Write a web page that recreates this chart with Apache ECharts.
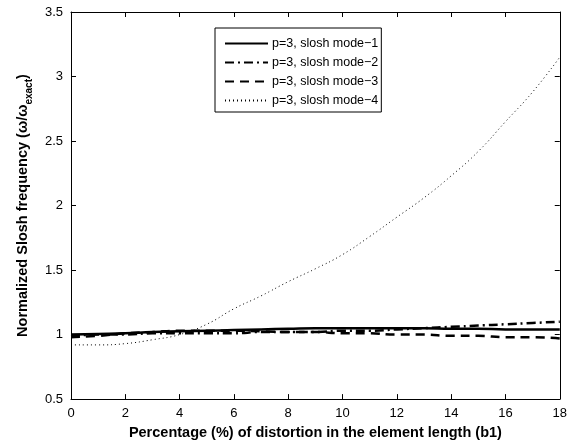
<!DOCTYPE html>
<html><head><meta charset="utf-8">
<script src="https://cdn.jsdelivr.net/npm/echarts@6/dist/echarts.min.js"></script>
<style>html,body{margin:0;padding:0;background:#fff}#c{width:570px;height:445px}</style>
</head><body><div id="c"></div>
<script>
var xVals = [0,1,2,3,4,5,6,7,8,9,10,11,12,13,14,15,16,17,18];
var mode1 = [1.00,1.005,1.01,1.02,1.025,1.03,1.035,1.04,1.045,1.05,1.05,1.05,1.05,1.05,1.045,1.045,1.04,1.04,1.04];
var mode2 = [0.99,1.00,1.00,1.01,1.01,1.01,1.01,1.02,1.02,1.02,1.03,1.03,1.04,1.05,1.06,1.07,1.08,1.09,1.10];
var mode3 = [0.98,0.99,1.01,1.02,1.03,1.03,1.03,1.025,1.02,1.02,1.01,1.01,1.00,1.00,0.99,0.99,0.98,0.98,0.97];
var mode4 = [0.92,0.92,0.93,0.96,1.00,1.08,1.20,1.30,1.41,1.51,1.62,1.76,1.91,2.06,2.23,2.42,2.65,2.88,3.15];
var seriesNames = ['p=3, slosh mode\u22121','p=3, slosh mode\u22122','p=3, slosh mode\u22123','p=3, slosh mode\u22124'];
var xTicks = [0,2,4,6,8,10,12,14,16,18];
var yTicks = [0.5,1,1.5,2,2.5,3,3.5];

function pairs(arr){ return xVals.map(function(x,i){ return [x, arr[i]]; }); }
var FONT = 'Liberation Sans, Arial, sans-serif';
var chart = echarts.init(document.getElementById('c'), null, {renderer:'canvas'});
var axisCommon = {
  axisLine:{show:true, onZero:false, lineStyle:{color:'#000', width:1}},
  axisTick:{show:true, inside:true, length:5, lineStyle:{color:'#000'}},
  splitLine:{show:false}
};
var styles = [
  {type:'solid', width:2.5},
  {type:[9,4,2,4], width:2.5},
  {type:[9,6], width:2.5},
  {type:[1,3], width:1}
];
var dataSets = [mode1, mode2, mode3, mode4];
var series = dataSets.map(function(d,i){
  return {
    name: seriesNames[i], type:'line', data: pairs(d), smooth:true, showSymbol:false, symbol:'none',
    lineStyle:{color:'#000', width:styles[i].width, type:styles[i].type},
    itemStyle:{color:'#000'}
  };
});
chart.setOption({
  animation:false,
  backgroundColor:'#fff',
  grid:{left:71, right:8, top:12, bottom:44, containLabel:false},
  legend:{
    left:215, top:28, orient:'vertical', itemWidth:43, itemHeight:10, itemGap:6,
    padding:[9,3,5,9],
    borderColor:'#000', borderWidth:1, backgroundColor:'#fff',
    itemStyle:{opacity:0},
    textStyle:{fontFamily:FONT, fontSize:12.5, color:'#000', padding:[0,0,0,-1]},
    data: seriesNames
  },
  xAxis:[
    Object.assign({type:'value', min:0, max:18, interval:2, position:'bottom',
      name:'Percentage (%) of distortion in the element length (b1)', nameLocation:'middle', nameGap:23,
      nameTextStyle:{fontFamily:FONT, fontWeight:'bold', fontSize:14.5, color:'#000'},
      axisLabel:{fontFamily:FONT, fontSize:13, color:'#000', margin:8}}, axisCommon),
    Object.assign({type:'value', min:0, max:18, interval:2, position:'top', axisLabel:{show:false}}, axisCommon)
  ],
  yAxis:[
    Object.assign({type:'value', min:0.5, max:3.5, interval:0.5, position:'left',
      name:'{m|Normalized Slosh frequency (\u03c9/\u03c9}{s|exact}{m|)}', nameLocation:'middle', nameGap:36, nameRotate:90,
      nameTextStyle:{fontFamily:FONT, fontWeight:'bold', fontSize:14.5, color:'#000',
        rich:{m:{fontFamily:FONT, fontWeight:'bold', fontSize:14.5, color:'#000', lineHeight:22, verticalAlign:'middle'},
              s:{fontFamily:FONT, fontWeight:'bold', fontSize:10, color:'#000', lineHeight:10, verticalAlign:'bottom'}}},
      axisLabel:{fontFamily:FONT, fontSize:13, color:'#000', margin:8,
        formatter:function(v){ return String(v); }}}, axisCommon),
    Object.assign({type:'value', min:0.5, max:3.5, interval:0.5, position:'right', axisLabel:{show:false}}, axisCommon)
  ],
  series: series
});
</script></body></html>
